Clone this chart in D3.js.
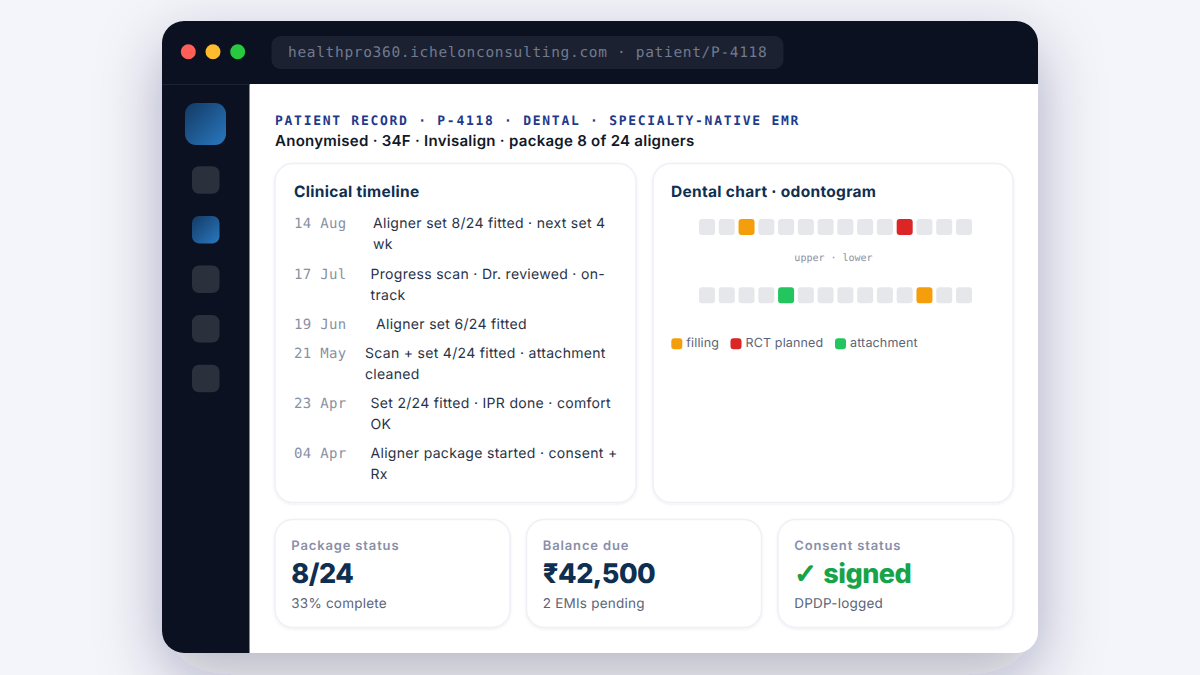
<!DOCTYPE html>
<html>
<head>
<meta charset="utf-8">
<script src="https://cdn.jsdelivr.net/npm/d3@7"></script>
<style>
html, body { margin: 0; padding: 0; background: #f4f5fa; }
svg { display: block; }
text { font-family: Inter, sans-serif; text-rendering: geometricPrecision; }
.mono { font-family: "DejaVu Sans Mono", monospace; }
</style>
</head>
<body>
<div id="chart"></div>
<script>
// data
const addressText = "healthpro360.ichelonconsulting.com · patient/P-4118";
const recordTitle = "PATIENT RECORD · P-4118 · DENTAL · SPECIALTY-NATIVE EMR";
const recordSubtitle = "Anonymised · 34F · Invisalign · package 8 of 24 aligners";

const timelineDates = ["14 Aug", "17 Jul", "19 Jun", "21 May", "23 Apr", "04 Apr"];
const timelineNotes = [
    ["Aligner set 8/24 fitted · next set 4", "wk"],
    ["Progress scan · Dr. reviewed · on-", "track"],
    ["Aligner set 6/24 fitted"],
    ["Scan + set 4/24 fitted · attachment", "cleaned"],
    ["Set 2/24 fitted · IPR done · comfort", "OK"],
    ["Aligner package started · consent +", "Rx"]
];

const toothNumbers = d3.range(1, 15);
const upperTeeth = ["", "", "filling", "", "", "", "", "", "", "", "rct", "", "", ""];
const lowerTeeth = ["", "", "", "", "attachment", "", "", "", "", "", "", "filling", "", ""];
const legendKeys = ["filling", "rct", "attachment"];
const legendLabels = ["filling", "RCT planned", "attachment"];

const kpiLabels = ["Package status", "Balance due", "Consent status"];
const kpiValues = ["8/24", "₹42,500", "✓ signed"];
const kpiNotes = ["33% complete", "2 EMIs pending", "DPDP-logged"];

const w = 1200, h = 675;

let svg = d3.select("#chart")
    .append("svg")
    .attr("width", w)
    .attr("height", h);

let defs = svg.append("defs");

let blue = defs.append("linearGradient")
    .attr("id", "blue")
    .attr("x1", 0).attr("y1", 0)
    .attr("x2", 1).attr("y2", 1);
blue.append("stop").attr("offset", "0%").attr("stop-color", "#123a63");
blue.append("stop").attr("offset", "100%").attr("stop-color", "#2a78c0");

let windowShadow = defs.append("filter")
    .attr("id", "windowShadow")
    .attr("filterUnits", "userSpaceOnUse")
    .attr("x", 0).attr("y", 0)
    .attr("width", w).attr("height", h);
windowShadow.append("feDropShadow")
    .attr("dx", 0).attr("dy", 22)
    .attr("stdDeviation", 32)
    .attr("flood-color", "#141c3c")
    .attr("flood-opacity", 0.3);

let windowEdge = defs.append("filter")
    .attr("id", "windowEdge")
    .attr("filterUnits", "userSpaceOnUse")
    .attr("x", 0).attr("y", 0)
    .attr("width", w).attr("height", h);
windowEdge.append("feDropShadow")
    .attr("dx", 0).attr("dy", 0)
    .attr("stdDeviation", 0.7)
    .attr("flood-color", "#141c3c")
    .attr("flood-opacity", 0.2);

let cardShadow = defs.append("filter")
    .attr("id", "cardShadow")
    .attr("x", "-10%").attr("y", "-10%")
    .attr("width", "120%").attr("height", "120%");
cardShadow.append("feDropShadow")
    .attr("dx", 0).attr("dy", 1)
    .attr("stdDeviation", 1.5)
    .attr("flood-color", "#1a2650")
    .attr("flood-opacity", 0.07);

defs.append("clipPath").attr("id", "windowClip")
    .append("rect")
    .attr("x", 162).attr("y", 21)
    .attr("width", 876).attr("height", 632)
    .attr("rx", 22);

// page and window
svg.append("rect").attr("width", w).attr("height", h).attr("fill", "#f4f5fa");
svg.append("rect")
    .attr("x", 162).attr("y", 21)
    .attr("width", 876).attr("height", 632)
    .attr("rx", 22)
    .attr("fill", "#ffffff")
    .attr("filter", "url(#windowShadow)");
svg.append("rect")
    .attr("x", 162).attr("y", 21)
    .attr("width", 876).attr("height", 632)
    .attr("rx", 22)
    .attr("fill", "#ffffff")
    .attr("filter", "url(#windowEdge)");

let win = svg.append("g").attr("clip-path", "url(#windowClip)");
win.append("rect").attr("x", 162).attr("y", 21).attr("width", 876).attr("height", 63).attr("fill", "#0b1120");
win.append("rect").attr("x", 162).attr("y", 84).attr("width", 87.5).attr("height", 569).attr("fill", "#0b1120");
win.append("rect").attr("x", 162).attr("y", 84).attr("width", 87.5).attr("height", 1).attr("fill", "#1c2230");

// window buttons
svg.selectAll(".dot")
    .data(["#ff5f57", "#febc2e", "#28c840"])
    .enter()
    .append("circle")
    .attr("class", "dot")
    .attr("cx", function (d, i) { return 188.3 + i * 24.7; })
    .attr("cy", 51.7)
    .attr("r", 7.5)
    .attr("fill", function (d) { return d; });

// address bar
svg.append("rect")
    .attr("x", 271.5).attr("y", 36)
    .attr("width", 512).attr("height", 33)
    .attr("rx", 9)
    .attr("fill", "#1b2130");
svg.append("text")
    .attr("class", "mono")
    .attr("x", 288).attr("y", 57)
    .attr("font-size", 14.5)
    .attr("letter-spacing", 0.67)
    .attr("fill", "#717a91")
    .text(addressText);

// sidebar
svg.append("rect")
    .attr("x", 185).attr("y", 103)
    .attr("width", 41).attr("height", 42)
    .attr("rx", 11)
    .attr("fill", "url(#blue)");
svg.selectAll(".nav")
    .data([0, 1, 2, 3, 4])
    .enter()
    .append("rect")
    .attr("class", "nav")
    .attr("x", 192).attr("y", function (d) { return 166.3 + d * 49.6; })
    .attr("width", 27.5).attr("height", 27.5)
    .attr("rx", 7)
    .attr("fill", function (d) { return d === 1 ? "url(#blue)" : "#2a303c"; });

// heading
svg.append("text")
    .attr("class", "mono")
    .attr("x", 275).attr("y", 125)
    .attr("font-size", 13)
    .attr("font-weight", 700)
    .attr("letter-spacing", 1.72)
    .attr("fill", "#1e3a8a")
    .text(recordTitle);
svg.append("text")
    .attr("x", 275).attr("y", 146)
    .attr("font-size", 15)
    .attr("font-weight", 600)
    .attr("letter-spacing", 0.27)
    .attr("fill", "#111827")
    .text(recordSubtitle);

function card(x, y, width, height) {
    svg.append("rect")
        .attr("x", x).attr("y", y)
        .attr("width", width).attr("height", height)
        .attr("rx", 18)
        .attr("fill", "#ffffff")
        .attr("stroke", "#eef0f6")
        .attr("stroke-width", 1.5)
        .attr("filter", "url(#cardShadow)");
}

// timeline card
card(275, 163.5, 361, 339);
svg.append("text")
    .attr("x", 294).attr("y", 197)
    .attr("font-size", 15.5)
    .attr("font-weight", 700)
    .attr("letter-spacing", 0.3)
    .attr("fill", "#0f2f50")
    .text("Clinical timeline");

const noteStartX = [373, 370.5, 376, 365, 370.5, 370.5];
const rowBaseY = [228, 279, 329, 358, 408, 458];
const noteLineHeight = 20.5;

let rows = svg.selectAll(".row")
    .data(timelineDates)
    .enter()
    .append("g")
    .attr("class", "row");
rows.append("text")
    .attr("class", "mono")
    .attr("x", 294)
    .attr("y", function (d, i) { return rowBaseY[i]; })
    .attr("font-size", 14)
    .attr("letter-spacing", 0.3)
    .attr("fill", "#8a90a4")
    .text(function (d) { return d; });
rows.each(function (d, i) {
    d3.select(this).selectAll("text.note")
        .data(timelineNotes[i])
        .enter()
        .append("text")
        .attr("class", "note")
        .attr("x", noteStartX[i])
        .attr("y", function (t, j) { return rowBaseY[i] + j * noteLineHeight; })
        .attr("font-size", 14)
        .attr("letter-spacing", 0.31)
        .attr("fill", "#283347")
        .text(function (t) { return t; });
});

// dental card
card(653, 163.5, 360, 339);
svg.append("text")
    .attr("x", 671).attr("y", 197)
    .attr("font-size", 15.5)
    .attr("font-weight", 700)
    .attr("letter-spacing", 0.3)
    .attr("fill", "#0f2f50")
    .text("Dental chart · odontogram");

let toothColor = d3.scaleOrdinal()
    .domain(["", "filling", "rct", "attachment"])
    .range(["#e5e7eb", "#f59e0b", "#dc2626", "#22c55e"]);

let toothX = d3.scaleBand()
    .domain(toothNumbers)
    .range([699, 972])
    .paddingInner(0.19);

function drawTeeth(states, y) {
    svg.append("g")
        .selectAll("rect")
        .data(states)
        .enter()
        .append("rect")
        .attr("x", function (d, i) { return toothX(toothNumbers[i]); })
        .attr("y", y)
        .attr("width", toothX.bandwidth())
        .attr("height", 16)
        .attr("rx", 3)
        .attr("fill", function (d) { return toothColor(d); });
}
drawTeeth(upperTeeth, 219);
drawTeeth(lowerTeeth, 287.3);

svg.append("text")
    .attr("class", "mono")
    .attr("x", 833.5).attr("y", 261)
    .attr("text-anchor", "middle")
    .attr("font-size", 10)
    .attr("fill", "#8a90a4")
    .text("upper · lower");

const legendSwatchX = [671.3, 730.5, 835];
let legend = svg.selectAll(".legend")
    .data(legendKeys)
    .enter()
    .append("g")
    .attr("class", "legend");
legend.append("rect")
    .attr("x", function (d, i) { return legendSwatchX[i]; })
    .attr("y", 338.3)
    .attr("width", 11).attr("height", 11)
    .attr("rx", 3)
    .attr("fill", function (d) { return toothColor(d); });
legend.append("text")
    .attr("x", function (d, i) { return legendSwatchX[i] + 15; })
    .attr("y", 347)
    .attr("font-size", 12.5)
    .attr("letter-spacing", 0.15)
    .attr("fill", "#5b6478")
    .text(function (d, i) { return legendLabels[i]; });

// kpi cards
const kpiX = [275, 526.5, 778];
const kpiColors = ["#0f2f50", "#0f2f50", "#16a34a"];
kpiLabels.forEach(function (label, i) {
    card(kpiX[i], 519.5, 235, 108);
    svg.append("text")
        .attr("x", kpiX[i] + 16.3).attr("y", 550)
        .attr("font-size", 13)
        .attr("font-weight", 600)
        .attr("letter-spacing", 0.85)
        .attr("fill", "#8a8fa8")
        .text(label);
    let value = svg.append("text")
        .attr("x", kpiX[i] + 16.3).attr("y", 583)
        .attr("font-size", 27)
        .attr("font-weight", 800)
        .attr("letter-spacing", -0.5)
        .attr("fill", kpiColors[i]);
    // the check mark comes from another font than the word after it,
    // a stroke brings it up to the weight of the word
    if (kpiValues[i].startsWith("✓")) {
        value.append("tspan")
            .style("font-family", "'DejaVu Sans'")
            .style("font-weight", 700)
            .attr("stroke", kpiColors[i])
            .attr("stroke-width", 1.4)
            .text("✓");
        value.append("tspan")
            .attr("dx", 1.5)
            .text(kpiValues[i].slice(1));
    } else {
        value.text(kpiValues[i]);
    }
    svg.append("text")
        .attr("x", kpiX[i] + 16.3).attr("y", 608)
        .attr("font-size", 13.5)
        .attr("letter-spacing", 0.22)
        .attr("fill", "#5b6478")
        .text(kpiNotes[i]);
});
</script>
</body>
</html>
